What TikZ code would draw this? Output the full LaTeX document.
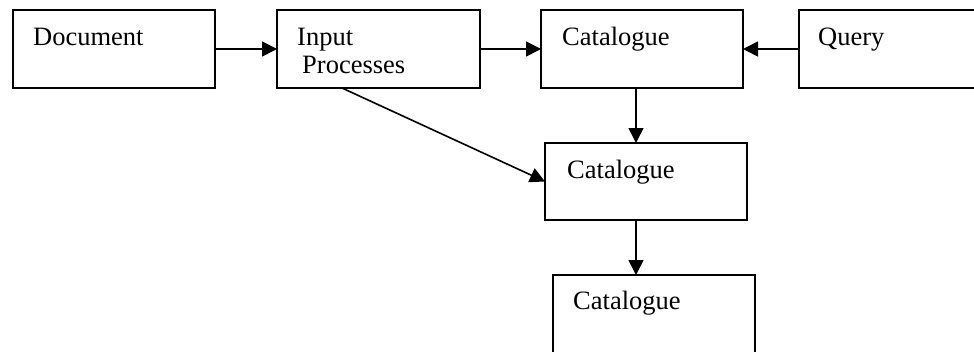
\documentclass[tikz,border=0pt]{standalone}
\usepackage{fontspec}
\setmainfont{Liberation Serif}
\usetikzlibrary{arrows.meta}
\begin{document}
\begin{tikzpicture}[x=1pt,y=-1pt,
  box/.style={draw, line width=1.6pt, rectangle, inner sep=0pt, outer sep=0pt, anchor=north west},
  txt/.style={inner sep=0pt, anchor=base west, font=\fontsize{26.5}{28}\selectfont},
  arr/.style={line width=1.6pt, -{Triangle[length=15pt,width=15pt]}}]
\useasboundingbox (0,0) rectangle (974,351);
\clip (0,0) rectangle (974,351);
% boxes
\node[box, minimum width=202pt, minimum height=78pt] (doc) at (13,10) {};
\node[box, minimum width=203pt, minimum height=78pt] (inp) at (277,10) {};
\node[box, minimum width=202pt, minimum height=78pt] (cat1) at (541,10) {};
\node[box, minimum width=230pt, minimum height=78pt] (qry) at (799,10) {};
\node[box, minimum width=202pt, minimum height=77pt] (cat2) at (545,143) {};
\node[box, minimum width=202pt, minimum height=110pt] (cat3) at (553,275) {};
% labels
\node[txt] (docT) at (33,45) {Document};
\node[txt] (inpT1) at (297,45) {Input};
\node[txt] (inpT2) at (302,73) {Processes};
\node[txt] (cat1T) at (562,45) {Catalogue};
\node[txt] (qryT) at (818,45) {Query};
\node[txt] (cat2T) at (567,178) {Catalogue};
\node[txt] (cat3T) at (573,309) {Catalogue};
% connectors
\draw[arr] (doc.east) -- (inp.west);
\draw[arr] (inp.east) -- (cat1.west);
\draw[arr] (qry.west) -- (cat1.east);
\draw[arr] ([xshift=-6pt]cat1.south) -- ([xshift=-6pt]cat1.south |- cat2.north);
\draw[arr] ([xshift=-10pt]cat2.south) -- ([xshift=-10pt]cat2.south |- cat3.north);
\draw[arr] ([xshift=65pt]inp.south west) -- (cat2.west);
\end{tikzpicture}
\end{document}
